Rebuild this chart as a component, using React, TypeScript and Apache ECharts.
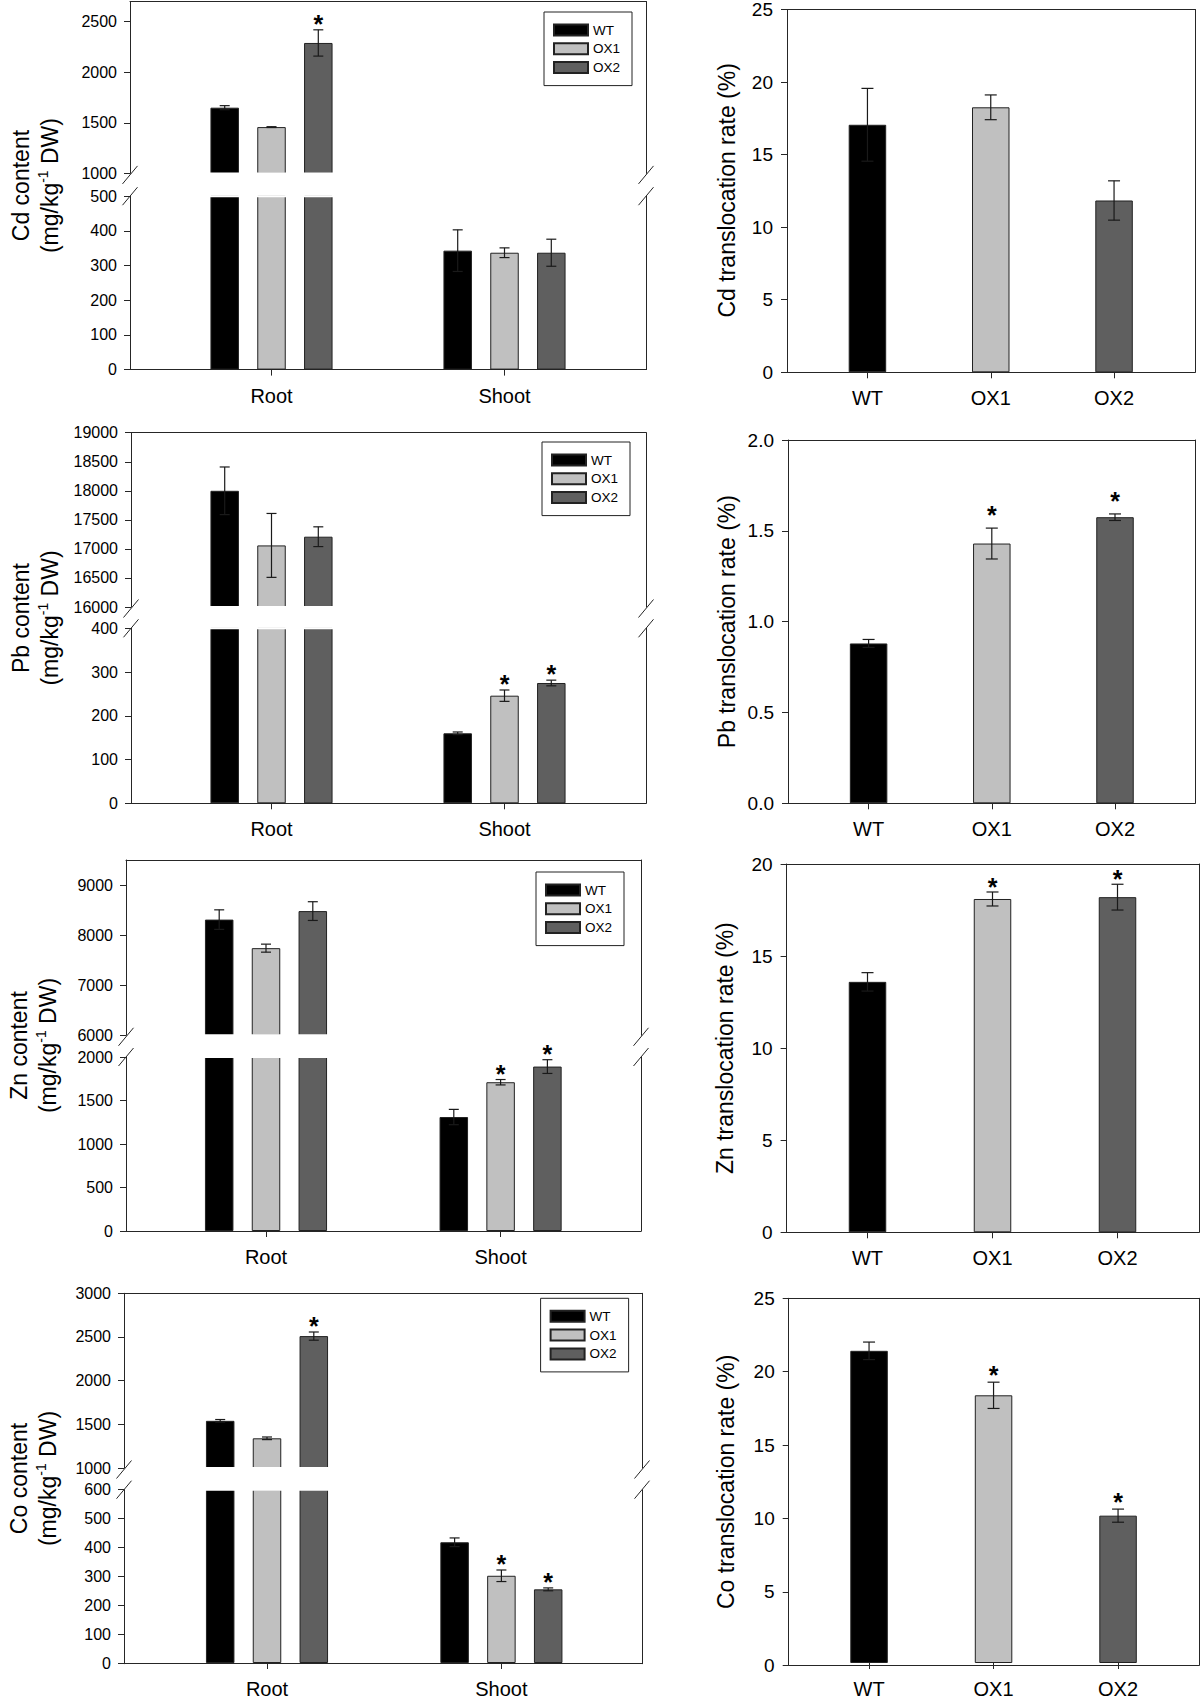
import React, { useEffect, useRef } from 'react';
import * as echarts from 'echarts';

// ---------------- data ----------------
const contentGroups = ['Root', 'Shoot'];
const lineNames = ['WT', 'OX1', 'OX2'];
const lineColors = ['#000000', '#c0c0c0', '#5f5f5f'];

// Cd
const cdRoot = [1650, 1458, 2290];
const cdRootErr = [20, 4, 130];
const cdRootSig = [0, 0, 1];
const cdShoot = [343, 337, 337];
const cdShootErr = [60, 14, 39];
const cdShootSig = [0, 0, 0];
const cdRate = [17.0, 18.2, 11.8];
const cdRateErr = [2.5, 0.85, 1.35];
const cdRateSig = [0, 0, 0];
const cdUpperTicks = [1000, 1500, 2000, 2500];
const cdLowerTicks = [0, 100, 200, 300, 400, 500];
const cdRateTicks = [0, 5, 10, 15, 20, 25];

// Pb
const pbRoot = [18000, 17060, 17210];
const pbRootErr = [410, 550, 170];
const pbRootSig = [0, 0, 0];
const pbShoot = [160, 246, 275];
const pbShootErr = [3, 13, 6.5];
const pbShootSig = [0, 1, 1];
const pbRate = [0.88, 1.43, 1.575];
const pbRateErr = [0.022, 0.085, 0.018];
const pbRateSig = [0, 1, 1];
const pbUpperTicks = [16000, 16500, 17000, 17500, 18000, 18500, 19000];
const pbLowerTicks = [0, 100, 200, 300, 400];
const pbRateTicks = [0, 0.5, 1.0, 1.5, 2.0];

// Zn
const znRoot = [8310, 7740, 8480];
const znRootErr = [195, 80, 187];
const znRootSig = [0, 0, 0];
const znShoot = [1310, 1710, 1890];
const znShootErr = [88, 31, 79];
const znShootSig = [0, 1, 1];
const znRate = [13.6, 18.1, 18.2];
const znRateErr = [0.5, 0.38, 0.7];
const znRateSig = [0, 1, 1];
const znUpperTicks = [6000, 7000, 8000, 9000];
const znLowerTicks = [0, 500, 1000, 1500, 2000];
const znRateTicks = [0, 5, 10, 15, 20];

// Co
const coRoot = [1540, 1340, 2510];
const coRootErr = [15, 15, 47];
const coRootSig = [0, 0, 1];
const coShoot = [418, 302, 255];
const coShootErr = [15, 20, 5];
const coShootSig = [0, 1, 1];
const coRate = [21.4, 18.35, 10.1];
const coRateErr = [0.6, 0.9, 0.45];
const coRateSig = [0, 1, 1];
const coUpperTicks = [1000, 1500, 2000, 2500, 3000];
const coLowerTicks = [0, 100, 200, 300, 400, 500, 600];
const coRateTicks = [0, 5, 10, 15, 20, 25];

// ---------------- styling / layout ----------------
const FONT = '"Liberation Sans", Arial, Helvetica, sans-serif';
const AX = '#262626';

type Seg = { l: number; r: number; t: number; b: number; il: number; ir: number };

function buildOption() {
  const grid: any[] = [];
  const xAxis: any[] = [];
  const yAxis: any[] = [];
  const series: any[] = [];
  const legend: any[] = [];
  const graphic: any[] = [];
  const lineStyle = { color: AX, width: 1 };

  function addSegment(
    s: Seg,
    yMin: number,
    yMax: number,
    ticks: number[],
    o: { top: boolean; bottom: boolean; cats: string[]; yFont: number; xFont: number; yMargin: number; fmt?: (v: number) => string }
  ) {
    const fg = grid.length;
    grid.push({ left: s.l, top: s.t, width: s.r - s.l, height: s.b - s.t });
    xAxis.push({
      gridIndex: fg, type: 'value', min: 0, max: 1, position: 'bottom', show: o.bottom,
      axisLine: { show: true, onZero: false, lineStyle }, axisTick: { show: false },
      axisLabel: { show: false }, splitLine: { show: false },
    });
    xAxis.push({
      gridIndex: fg, type: 'value', min: 0, max: 1, position: 'top', show: o.top,
      axisLine: { show: true, onZero: false, lineStyle }, axisTick: { show: false },
      axisLabel: { show: false }, splitLine: { show: false },
    });
    yAxis.push({
      gridIndex: fg, type: 'value', min: yMin, max: yMax, position: 'left',
      axisLine: { show: true, onZero: false, lineStyle },
      axisTick: { show: true, length: 6, customValues: ticks, lineStyle },
      axisLabel: {
        customValues: ticks, fontSize: o.yFont, fontFamily: FONT, color: '#000', margin: o.yMargin,
        formatter: o.fmt ? o.fmt : (v: number) => String(v),
      },
      splitLine: { show: false },
    });
    yAxis.push({
      gridIndex: fg, type: 'value', min: yMin, max: yMax, position: 'right',
      axisLine: { show: true, onZero: false, lineStyle }, axisTick: { show: false },
      axisLabel: { show: false }, splitLine: { show: false },
    });
    const dg = grid.length;
    grid.push({ left: s.il, top: s.t, width: s.ir - s.il, height: s.b - s.t });
    const xi = xAxis.length;
    xAxis.push({
      gridIndex: dg, type: 'category', data: o.cats, position: 'bottom', show: o.bottom,
      axisLine: { show: false, onZero: false },
      axisTick: { show: true, alignWithLabel: true, length: 6, lineStyle },
      axisLabel: { show: true, fontSize: o.xFont, fontFamily: FONT, color: '#000', margin: 16 },
      splitLine: { show: false },
    });
    const yi = yAxis.length;
    yAxis.push({ gridIndex: dg, type: 'value', min: yMin, max: yMax, show: false, splitLine: { show: false } });
    return { xi, yi };
  }

  function addErrors(xi: number, yi: number, items: number[][], step: number, cap: number, starGap: number) {
    series.push({
      type: 'custom', xAxisIndex: xi, yAxisIndex: yi, silent: true, z: 5,
      encode: { x: 0, y: 2 },
      data: items,
      renderItem: (_p: any, api: any) => {
        const ci = api.value(0);
        const off = api.value(1);
        const v = api.value(2);
        const e = api.value(3);
        const sig = api.value(4);
        const base = api.coord([ci, v]);
        const x = base[0] + off * step;
        const yT = api.coord([ci, v + e])[1];
        const yB = api.coord([ci, v - e])[1];
        const st = { stroke: '#1a1a1a', lineWidth: 1.2 };
        const children: any[] = [
          { type: 'line', shape: { x1: x, y1: yT, x2: x, y2: yB }, style: st },
          { type: 'line', shape: { x1: x - cap, y1: yT, x2: x + cap, y2: yT }, style: st },
          { type: 'line', shape: { x1: x - cap, y1: yB, x2: x + cap, y2: yB }, style: st },
        ];
        if (sig) {
          children.push({
            type: 'text', x, y: yT - starGap,
            style: { text: '*', fill: '#000', fontSize: 25, fontWeight: 'bold', fontFamily: FONT, align: 'center', verticalAlign: 'middle' },
          });
        }
        return { type: 'group', children };
      },
    });
  }

  const BAR_L = 28.5;
  const STEP_L = 46.8;

  function leftPanel(p: {
    elem: string; root: number[]; rootErr: number[]; rootSig: number[];
    shoot: number[]; shootErr: number[]; shootSig: number[];
    upMin: number; upMax: number; upTicks: number[]; loMax: number; loTicks: number[];
    l: number; r: number; upT: number; upB: number; loT: number; loB: number; il: number; ir: number;
    legL: number; legT: number; tx: number;
  }) {
    const byCat = [p.root, p.shoot];
    const errCat = [p.rootErr, p.shootErr];
    const sigCat = [p.rootSig, p.shootSig];
    const common = { cats: contentGroups, yFont: 16, xFont: 20, yMargin: 13 };
    const up = addSegment({ l: p.l, r: p.r, t: p.upT, b: p.upB, il: p.il, ir: p.ir }, p.upMin, p.upMax, p.upTicks, { ...common, top: true, bottom: false });
    const lo = addSegment({ l: p.l, r: p.r, t: p.loT, b: p.loB, il: p.il, ir: p.ir }, 0, p.loMax, p.loTicks, { ...common, top: false, bottom: true });
    [up, lo].forEach((ax, k) => {
      lineNames.forEach((name, li) => {
        series.push({
          name, type: 'bar', xAxisIndex: ax.xi, yAxisIndex: ax.yi, clip: true,
          barWidth: BAR_L, barGap: (STEP_L / BAR_L - 1) * 100 + '%',
          itemStyle: { color: lineColors[li], borderColor: '#222', borderWidth: 1 },
          data: byCat.map((vals) => (k === 0 ? (vals[li] >= p.upMin ? vals[li] : '-') : vals[li])),
        });
      });
      const items: number[][] = [];
      byCat.forEach((vals, ci) => {
        vals.forEach((v, li) => {
          const inSeg = k === 0 ? v >= p.upMin : v <= p.loMax;
          if (inSeg) items.push([ci, li - 1, v, errCat[ci][li], sigCat[ci][li]]);
        });
      });
      addErrors(ax.xi, ax.yi, items, STEP_L, 5, 6);
    });
    legend.push({
      orient: 'vertical', left: p.legL, top: p.legT, padding: [11, 12, 11, 9],
      itemWidth: 34, itemHeight: 11, itemGap: 4.8, icon: 'rect', selectedMode: false,
      borderColor: '#222', borderWidth: 1,
      textStyle: { fontSize: 13.5, fontFamily: FONT, color: '#000', lineHeight: 11 },
      data: lineNames,
    });
    // clean cut of the bars at the axis break
    [p.upB, p.loT].forEach((y) => {
      graphic.push({ type: 'line', z: 100, shape: { x1: p.il, y1: y, x2: p.ir, y2: y }, style: { stroke: '#ffffff', lineWidth: 2 } });
    });
    // break marks
    [p.l, p.r].forEach((x) => {
      [p.upB + 1.5, p.loT].forEach((y) => {
        graphic.push({ type: 'line', z: 101, shape: { x1: x - 7.5, y1: y + 9, x2: x + 7.5, y2: y - 9 }, style: { stroke: AX, lineWidth: 1 } });
      });
    });
    const f = '23px ' + FONT;
    graphic.push({
      type: 'text', x: p.tx, y: (p.upT + p.loB) / 2, rotation: Math.PI / 2,
      style: {
        text: '{t|' + p.elem + ' content}\n{t|(mg/kg}{s|-1}{t| DW)}',
        align: 'center', verticalAlign: 'middle', fill: '#000', fontFamily: FONT, fontSize: 23, font: f,
        rich: {
          t: { fontSize: 23, font: f, lineHeight: 29, fontFamily: FONT, fill: '#000' },
          s: { fontSize: 14, font: '14px ' + FONT, lineHeight: 14, verticalAlign: 'top', fontFamily: FONT, fill: '#000' },
        },
      },
    });
  }

  function rightPanel(p: {
    elem: string; rate: number[]; err: number[]; sig: number[]; max: number; ticks: number[];
    l: number; r: number; t: number; b: number; il: number; ir: number; tx: number; starGap: number;
    fmt?: (v: number) => string;
  }) {
    const ax = addSegment({ l: p.l, r: p.r, t: p.t, b: p.b, il: p.il, ir: p.ir }, 0, p.max, p.ticks, {
      top: true, bottom: true, cats: lineNames, yFont: 19, xFont: 20, yMargin: 14, fmt: p.fmt,
    });
    series.push({
      name: p.elem + ' rate', type: 'bar', xAxisIndex: ax.xi, yAxisIndex: ax.yi, barWidth: 37.5,
      itemStyle: { borderColor: '#222', borderWidth: 1 },
      data: p.rate.map((v, i) => ({ value: v, itemStyle: { color: lineColors[i] } })),
    });
    addErrors(ax.xi, ax.yi, p.rate.map((v, i) => [i, 0, v, p.err[i], p.sig[i]]), 0, 6, p.starGap);
    graphic.push({
      type: 'text', x: p.tx, y: (p.t + p.b) / 2, rotation: Math.PI / 2,
      style: {
        text: p.elem + ' translocation rate (%)', align: 'center', verticalAlign: 'middle',
        fill: '#000', fontFamily: FONT, fontSize: 23,
      },
    });
  }

  leftPanel({
    elem: 'Cd', root: cdRoot, rootErr: cdRootErr, rootSig: cdRootSig, shoot: cdShoot, shootErr: cdShootErr, shootSig: cdShootSig,
    upMin: 1000, upMax: 2700, upTicks: cdUpperTicks, loMax: 500, loTicks: cdLowerTicks,
    l: 130, r: 646, upT: 1.5, upB: 173.4, loT: 196.2, loB: 369.6, il: 155, ir: 621, legL: 544, legT: 12, tx: 35.5,
  });
  leftPanel({
    elem: 'Pb', root: pbRoot, rootErr: pbRootErr, rootSig: pbRootSig, shoot: pbShoot, shootErr: pbShootErr, shootSig: pbShootSig,
    upMin: 16000, upMax: 19000, upTicks: pbUpperTicks, loMax: 400, loTicks: pbLowerTicks,
    l: 131, r: 646, upT: 432.7, upB: 607, loT: 628.3, loB: 803.3, il: 155, ir: 621, legL: 542, legT: 442, tx: 35.5,
  });
  leftPanel({
    elem: 'Zn', root: znRoot, rootErr: znRootErr, rootSig: znRootSig, shoot: znShoot, shootErr: znShootErr, shootSig: znShootSig,
    upMin: 6000, upMax: 9500, upTicks: znUpperTicks, loMax: 2000, loTicks: znLowerTicks,
    l: 126, r: 641, upT: 860, upB: 1035.3, loT: 1057, loB: 1231, il: 148.7, ir: 617.9, legL: 536, legT: 872, tx: 33.5,
  });
  leftPanel({
    elem: 'Co', root: coRoot, rootErr: coRootErr, rootSig: coRootSig, shoot: coShoot, shootErr: coShootErr, shootSig: coShootSig,
    upMin: 1000, upMax: 3000, upTicks: coUpperTicks, loMax: 600, loTicks: coLowerTicks,
    l: 124, r: 642, upT: 1293.3, upB: 1468, loT: 1489.7, loB: 1663.7, il: 149.8, ir: 618.6, legL: 540.6, legT: 1298.3, tx: 33.5,
  });

  rightPanel({ elem: 'Cd', rate: cdRate, err: cdRateErr, sig: cdRateSig, max: 25, ticks: cdRateTicks,
    l: 787, r: 1195, t: 8.3, b: 372.3, il: 805.8, ir: 1175.7, tx: 727, starGap: 6 });
  rightPanel({ elem: 'Pb', rate: pbRate, err: pbRateErr, sig: pbRateSig, max: 2.0, ticks: pbRateTicks,
    l: 788, r: 1195, t: 440, b: 803.3, il: 807, ir: 1176.6, tx: 727, starGap: 13, fmt: (v: number) => v.toFixed(1) });
  rightPanel({ elem: 'Zn', rate: znRate, err: znRateErr, sig: znRateSig, max: 20, ticks: znRateTicks,
    l: 786.6, r: 1199, t: 864, b: 1232.3, il: 805, ir: 1180, tx: 725, starGap: 5 });
  rightPanel({ elem: 'Co', rate: coRate, err: coRateErr, sig: coRateSig, max: 25, ticks: coRateTicks,
    l: 788.7, r: 1199, t: 1298.3, b: 1665.3, il: 806.8, ir: 1180.3, tx: 726, starGap: 7 });

  return {
    animation: false,
    backgroundColor: '#ffffff',
    grid, xAxis, yAxis, series, legend, graphic,
  };
}

export default function App() {
  const ref = useRef<HTMLDivElement>(null);
  useEffect(() => {
    if (!ref.current) return;
    const chart = echarts.init(ref.current, undefined, { renderer: 'svg' });
    chart.setOption(buildOption() as any);
    return () => chart.dispose();
  }, []);
  return (
    <div
      ref={ref}
      style={{ position: 'absolute', left: 0, top: 0, width: 1200, height: 1699, background: '#fff' }}
    />
  );
}
